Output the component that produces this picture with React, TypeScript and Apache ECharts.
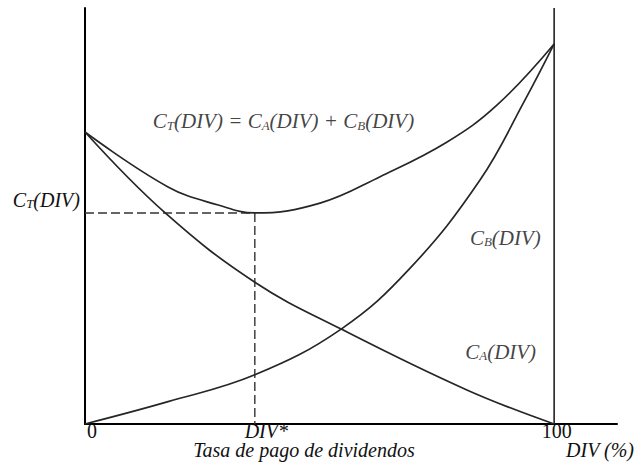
import React, { useEffect, useRef } from "react";
import * as echarts from "echarts";

// ---- Data ----
const CT_X = [0, 17.7, 28.4, 36.2, 50.1, 62.9, 77.1, 87.8, 100];
const CT_Y = [77.2, 62.7, 57.9, 55.8, 58.4, 65.4, 74.5, 84.3, 100.5];

const CA_X = [0, 17.1, 36.2, 54.6, 81.4, 100];
const CA_Y = [77.2, 55.8, 37.5, 25.1, 9.0, 0];

const CB_X = [0, 17.7, 36.2, 54.6, 69.3, 84.2, 93.8, 100];
const CB_Y = [0, 5.9, 13.0, 25.1, 41.2, 64.5, 85.7, 100.5];

const DIV_STAR = 36.2;
const CT_MIN = 55.8;
const X_MAX = 113.4;
const Y_MAX = 110;
const X_TICKS = [0, DIV_STAR, 100];
const Y_TICKS = [CT_MIN];

// annotation anchors (data coordinates)
const LABELS: { x: number; y: number; text: string }[] = [
  { x: 42.3, y: 80.4, text: "{m|C}{s|T}{m|(DIV) = C}{s|A}{m|(DIV) + C}{s|B}{m|(DIV)}" },
  { x: 89.6, y: 49.6, text: "{m|C}{s|B}{m|(DIV)}" },
  { x: 88.6, y: 19.5, text: "{m|C}{s|A}{m|(DIV)}" },
];

const SERIF = "Liberation Serif";
const INK = "#111";
const LINE = "#262626";

const zip = (xs: number[], ys: number[]) => xs.map((x, i) => [x, ys[i]]);

const richSub = (size: number) => ({
  m: {
    fontFamily: SERIF,
    fontStyle: "italic",
    fontSize: size,
    color: INK,
    lineHeight: 24,
    verticalAlign: "bottom",
  },
  s: {
    fontFamily: SERIF,
    fontStyle: "italic",
    fontSize: 13,
    color: INK,
    lineHeight: 12,
    verticalAlign: "bottom",
  },
});

export default function App() {
  const ref = useRef<HTMLDivElement>(null);

  useEffect(() => {
    if (!ref.current) return;
    const chart = echarts.init(ref.current, null, { renderer: "svg" });

    const curve = (name: string, data: number[][]) => ({
      name,
      type: "line",
      data,
      smooth: 0.4,
      symbol: "none",
      lineStyle: { color: LINE, width: 1.7 },
      silent: true,
    });

    const option: any = {
      animation: false,
      backgroundColor: "#fff",
      grid: { left: 85, right: 19, top: 8, bottom: 38, containLabel: false },
      xAxis: {
        type: "value",
        min: 0,
        max: X_MAX,
        axisLine: { show: true, onZero: false, lineStyle: { color: "#000", width: 2 } },
        axisTick: { show: false },
        splitLine: { show: false },
        axisLabel: {
          customValues: X_TICKS,
          margin: 0,
          formatter: (v: number) =>
            v === 0 ? "{n0|0}" : v === 100 ? "{n1|100}" : "{d|DIV*}",
          rich: {
            n0: { fontFamily: SERIF, fontSize: 20, color: INK, lineHeight: 14, padding: [0, 0, 0, 14] },
            n1: { fontFamily: SERIF, fontSize: 20, color: INK, lineHeight: 14, padding: [0, 0, 0, 5] },
            d: { fontFamily: SERIF, fontStyle: "italic", fontSize: 20, color: INK, lineHeight: 14, padding: [0, 0, 0, 23] },
          },
        },
      },
      yAxis: {
        type: "value",
        min: 0,
        max: Y_MAX,
        axisLine: { show: true, onZero: false, lineStyle: { color: "#000", width: 2 } },
        axisTick: { show: false },
        splitLine: { show: false },
        axisLabel: {
          customValues: Y_TICKS,
          margin: 5,
          verticalAlign: "bottom",
          padding: [0, 0, 3, 0],
          formatter: () => "{m|C}{s|T}{m|(DIV)}",
          rich: richSub(20),
        },
      },
      graphic: [
        {
          type: "text",
          x: 304,
          y: 450,
          style: {
            text: "Tasa de pago de dividendos",
            fontFamily: SERIF,
            fontStyle: "italic",
            fontSize: 20,
            fill: INK,
            align: "center",
            verticalAlign: "middle",
          },
        },
        {
          type: "text",
          x: 600,
          y: 450,
          style: {
            text: "DIV (%)",
            fontFamily: SERIF,
            fontStyle: "italic",
            fontSize: 20,
            fill: INK,
            align: "center",
            verticalAlign: "middle",
          },
        },
      ],
      series: [
        {
          name: "right",
          type: "line",
          data: [
            [100, 0],
            [100, Y_MAX],
          ],
          symbol: "none",
          lineStyle: { color: "#222", width: 1.6 },
          silent: true,
        },
        {
          name: "dashH",
          type: "line",
          data: [
            [0, CT_MIN],
            [DIV_STAR, CT_MIN],
          ],
          symbol: "none",
          lineStyle: { color: "#333", width: 1.6, type: [9, 4] },
          silent: true,
        },
        {
          name: "dashV",
          type: "line",
          data: [
            [DIV_STAR, CT_MIN],
            [DIV_STAR, 0],
          ],
          symbol: "none",
          lineStyle: { color: "#333", width: 1.4, type: [9, 4] },
          silent: true,
        },
        curve("CT", zip(CT_X, CT_Y)),
        curve("CA", zip(CA_X, CA_Y)),
        curve("CB", zip(CB_X, CB_Y)),
        {
          name: "labels",
          type: "scatter",
          symbolSize: 0,
          silent: true,
          data: LABELS.map((l) => ({
            value: [l.x, l.y],
            label: {
              show: true,
              position: "inside",
              formatter: l.text,
              rich: richSub(21),
            },
          })),
        },
      ],
    };

    chart.setOption(option);
    return () => chart.dispose();
  }, []);

  return (
    <div
      ref={ref}
      style={{ position: "absolute", left: 0, top: 0, width: 636, height: 462 }}
    />
  );
}
